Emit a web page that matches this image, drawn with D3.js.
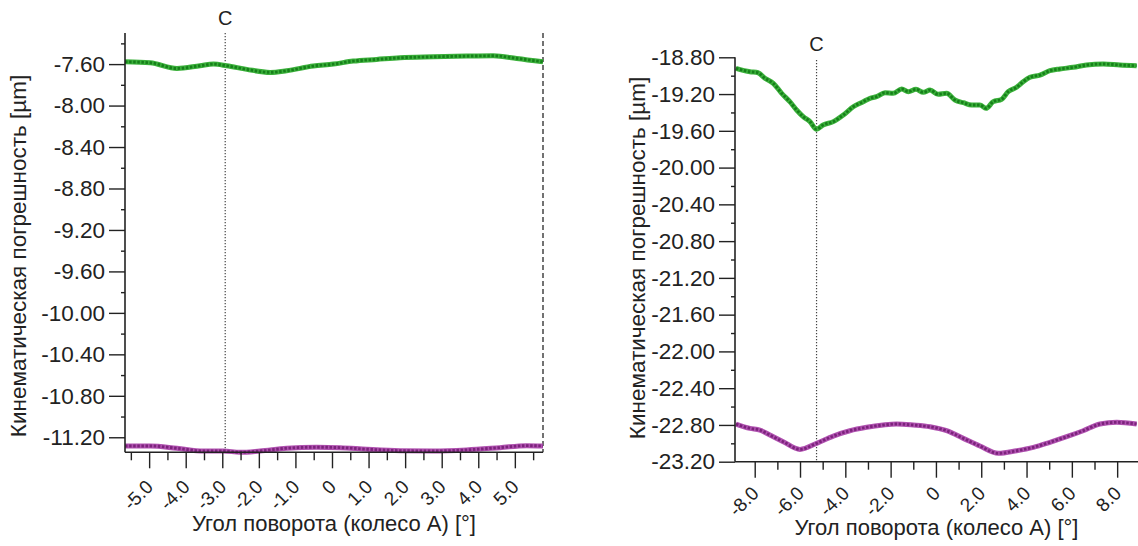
<!DOCTYPE html>
<html>
<head>
<meta charset="utf-8">
<script src="https://cdn.jsdelivr.net/npm/d3@7"></script>
<style>
  body { margin: 0; background: #fff; }
  svg { display: block; }
  text { font-family: "Liberation Sans", Arial, sans-serif; fill: #222; }
</style>
</head>
<body>
<svg id="chart" width="1138" height="546"></svg>
<script>
// ---- Left panel: angle [°] and kinematic error [µm] ----
const leftUpperAngle = [-5.66, -4.97, -4.24, -3.61, -3.24, -2.88, -2.33, -1.69, -1.24, -0.51, 0.04, 0.58, 1.22, 1.86, 2.77, 3.68, 4.41, 5.05, 5.77];
const leftUpperError = [-7.578, -7.587, -7.642, -7.616, -7.600, -7.616, -7.651, -7.680, -7.664, -7.619, -7.600, -7.571, -7.555, -7.539, -7.530, -7.523, -7.520, -7.545, -7.578];
const leftLowerAngle = [-5.66, -4.97, -4.24, -3.52, -2.97, -2.51, -1.97, -1.24, -0.42, 0.22, 0.95, 1.86, 2.77, 3.68, 4.59, 5.32, 5.77];
const leftLowerError = [-11.284, -11.284, -11.306, -11.332, -11.332, -11.345, -11.332, -11.306, -11.296, -11.300, -11.315, -11.329, -11.332, -11.322, -11.300, -11.281, -11.284];
const leftXTicks = [-5, -4, -3, -2, -1, 0, 1, 2, 3, 4, 5];
const leftXMinor = [-5.5, -4.5, -3.5, -2.5, -1.5, -0.5, 0.5, 1.5, 2.5, 3.5, 4.5, 5.5];
const leftYTicks = [-7.6, -8.0, -8.4, -8.8, -9.2, -9.6, -10.0, -10.4, -10.8, -11.2];
const leftYMinor = [-7.4, -7.8, -8.2, -8.6, -9.0, -9.4, -9.8, -10.2, -10.6, -11.0];
const leftMarkerAngle = -2.92;

// ---- Right panel ----
const rightUpperAngle = [-8.83, -8.21, -7.85, -7.55, -7.18, -6.81, -6.45, -6.15, -5.86, -5.56, -5.27, -4.98, -4.53, -4.09, -3.65, -3.21, -2.91, -2.62, -2.25, -1.89, -1.51, -1.22, -0.88, -0.56, -0.26, 0.10, 0.47, 0.84, 1.21, 1.58, 1.94, 2.21, 2.53, 2.90, 3.19, 3.56, 3.85, 4.15, 4.59, 5.03, 5.47, 6.06, 6.65, 7.39, 8.12, 8.86];
const rightUpperError = [-18.920, -18.957, -18.968, -19.028, -19.083, -19.192, -19.283, -19.373, -19.446, -19.500, -19.583, -19.537, -19.500, -19.428, -19.338, -19.283, -19.246, -19.229, -19.185, -19.192, -19.145, -19.174, -19.148, -19.181, -19.156, -19.203, -19.192, -19.265, -19.294, -19.319, -19.319, -19.355, -19.283, -19.257, -19.174, -19.126, -19.066, -19.018, -18.993, -18.946, -18.927, -18.909, -18.884, -18.873, -18.884, -18.891];
const rightLowerAngle = [-8.83, -8.21, -7.77, -7.33, -6.74, -6.00, -5.27, -4.53, -3.80, -3.06, -2.33, -1.74, -1.00, -0.26, 0.47, 1.21, 1.94, 2.75, 3.56, 4.30, 5.03, 5.77, 6.50, 7.24, 7.98, 8.86];
const rightLowerError = [-22.790, -22.837, -22.856, -22.910, -22.983, -23.066, -23.000, -22.921, -22.863, -22.826, -22.801, -22.790, -22.801, -22.820, -22.863, -22.946, -23.030, -23.109, -23.081, -23.044, -22.989, -22.928, -22.863, -22.790, -22.772, -22.790];
const rightXTicks = [-8, -6, -4, -2, 0, 2, 4, 6, 8];
const rightXMinor = [-7, -5, -3, -1, 1, 3, 5, 7];
const rightYTicks = [-18.8, -19.2, -19.6, -20.0, -20.4, -20.8, -21.2, -21.6, -22.0, -22.4, -22.8, -23.2];
const rightYMinor = [-19.0, -19.4, -19.8, -20.2, -20.6, -21.0, -21.4, -21.8, -22.2, -22.6, -23.0];
const rightMarkerAngle = -5.27;

const markerLabel = "C";
const yTitle = "Кинематическая погрешность [µm]";
const xTitle = "Угол поворота (колесо А) [°]";

const locale = d3.formatLocale({ decimal: ".", thousands: ",", grouping: [3], currency: ["", ""], minus: "-" });
const fmt2 = locale.format(".2f");
const fmt1 = locale.format(".1f");
const fmtX = d => (d === 0 ? "0" : fmt1(d));

const svg = d3.select("#chart");

const panels = [
  {
    xDomain: [-5.66, 5.77], xRange: [125, 543],
    yDomain: [-11.345, -7.30], yRange: [452.3, 33],
    xTicks: leftXTicks, xMinor: leftXMinor, yTicks: leftYTicks, yMinor: leftYMinor,
    upper: [leftUpperAngle, leftUpperError], lower: [leftLowerAngle, leftLowerError],
    marker: leftMarkerAngle, markerTop: 33, markerLabelY: 18,
    rightBorder: true, xLabelDrop: 31,
    yTitleX: 18, yTitleY: 256, xTitleY: 523
  },
  {
    xDomain: [-8.87, 8.92], xRange: [735, 1138],
    yDomain: [-23.2, -18.8], yRange: [461.7, 57.3],
    xTicks: rightXTicks, xMinor: rightXMinor, yTicks: rightYTicks, yMinor: rightYMinor,
    upper: [rightUpperAngle, rightUpperError], lower: [rightLowerAngle, rightLowerError],
    marker: rightMarkerAngle, markerTop: 60, markerLabelY: 44,
    rightBorder: false, xLabelDrop: 28,
    yTitleX: 637, yTitleY: 258, xTitleY: 527
  }
];

function drawSeries(g, x, y, xs, ys, base, dark) {
  const pts = xs.map((a, i) => [a, ys[i]]);
  const line = d3.line().x(d => x(d[0])).y(d => y(d[1])).curve(d3.curveMonotoneX);
  g.append("path").attr("d", line(pts)).attr("fill", "none")
    .attr("stroke", base).attr("stroke-width", 5).attr("stroke-linejoin", "round");
  g.append("path").attr("d", line(pts)).attr("fill", "none")
    .attr("stroke", dark).attr("stroke-width", 2.9).attr("stroke-dasharray", "2.5,1.6");
}

panels.forEach(p => {
  const x = d3.scaleLinear().domain(p.xDomain).range(p.xRange);
  const y = d3.scaleLinear().domain(p.yDomain).range(p.yRange);
  const g = svg.append("g");
  const [x0, x1] = p.xRange;
  const [yb, yt] = p.yRange;

  // vertical marker line and its label
  g.append("line")
    .attr("x1", x(p.marker)).attr("x2", x(p.marker))
    .attr("y1", p.markerTop).attr("y2", yb)
    .attr("stroke", "#444").attr("stroke-width", 1.2).attr("stroke-dasharray", "1.2,1.8");
  g.append("text").attr("x", x(p.marker)).attr("y", p.markerLabelY)
    .attr("text-anchor", "middle").attr("dominant-baseline", "central")
    .style("font-size", "20px").text(markerLabel);

  if (p.rightBorder) {
    g.append("line").attr("x1", x1).attr("x2", x1).attr("y1", yt).attr("y2", yb)
      .attr("stroke", "#444").attr("stroke-width", 1.5).attr("stroke-dasharray", "5,3");
  }

  // series
  drawSeries(g, x, y, p.upper[0], p.upper[1], "#3bb03b", "#16801a");
  drawSeries(g, x, y, p.lower[0], p.lower[1], "#b052b0", "#7c237c");

  // y axis: minor ticks then labelled major ticks
  g.append("g").attr("transform", `translate(${x0},0)`)
    .call(d3.axisLeft(y).tickValues(p.yMinor).tickSize(4).tickFormat(""))
    .call(a => a.select(".domain").remove())
    .selectAll("line").attr("stroke", "#222").attr("stroke-width", 1.4);
  const ya = g.append("g").attr("transform", `translate(${x0},0)`)
    .call(d3.axisLeft(y).tickValues(p.yTicks).tickSize(16).tickPadding(4).tickFormat(fmt2).tickSizeOuter(0));
  ya.select(".domain").attr("stroke", "#222").attr("stroke-width", 1.6)
    .attr("d", `M0,${yt}V${yb}`);
  ya.selectAll(".tick line").attr("stroke", "#222").attr("stroke-width", 1.4);
  ya.selectAll(".tick text").style("font-size", "22.5px").attr("fill", "#222");

  // x axis
  g.append("g").attr("transform", `translate(0,${yb})`)
    .call(d3.axisBottom(x).tickValues(p.xMinor).tickSize(8).tickFormat(""))
    .call(a => a.select(".domain").remove())
    .selectAll("line").attr("stroke", "#222").attr("stroke-width", 1.4);
  const xa = g.append("g").attr("transform", `translate(0,${yb})`)
    .call(d3.axisBottom(x).tickValues(p.xTicks).tickSize(16).tickFormat(fmtX).tickSizeOuter(0));
  xa.select(".domain").attr("stroke", "#222").attr("stroke-width", 1.6)
    .attr("d", `M${x0},0H${x1}`);
  xa.selectAll(".tick line").attr("stroke", "#222").attr("stroke-width", 1.4);
  xa.selectAll(".tick text")
    .attr("x", 0).attr("y", 0).attr("dy", "0.35em")
    .attr("transform", `translate(0,${p.xLabelDrop}) rotate(-45)`)
    .attr("text-anchor", "end")
    .style("font-size", "19px").attr("fill", "#222");

  // axis titles
  g.append("text")
    .attr("transform", `translate(${p.yTitleX},${p.yTitleY}) rotate(-90)`)
    .attr("text-anchor", "middle").attr("dominant-baseline", "central")
    .style("font-size", "22.5px").text(yTitle);
  g.append("text")
    .attr("x", (x0 + x1) / 2).attr("y", p.xTitleY)
    .attr("text-anchor", "middle").attr("dominant-baseline", "central")
    .style("font-size", "22px").text(xTitle);
});
</script>
</body>
</html>
